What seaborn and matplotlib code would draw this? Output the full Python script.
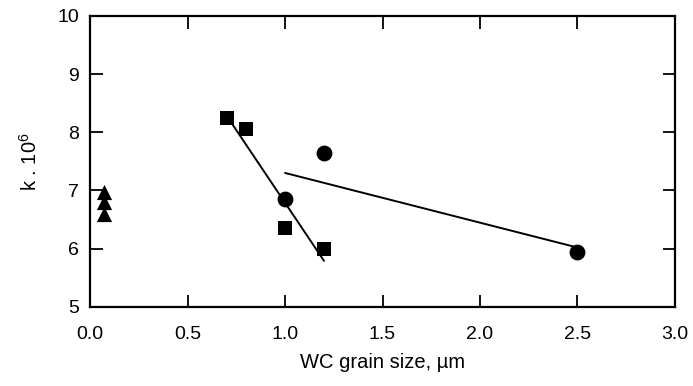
import matplotlib
matplotlib.use("Agg")
import matplotlib.pyplot as plt
import seaborn as sns
import pandas as pd

sns.set_theme(style="ticks")
plt.rcParams['font.family'] = ['Liberation Sans', 'DejaVu Sans']
plt.rcParams['mathtext.fontset'] = 'custom'
plt.rcParams['mathtext.rm'] = 'Liberation Sans'
plt.rcParams['text.color'] = 'black'
plt.rcParams['axes.labelcolor'] = 'black'

tri_x = [0.07, 0.07, 0.07]
tri_y = [6.97, 6.81, 6.60]
sq_x = [0.7, 0.8, 1.0, 1.2]
sq_y = [8.25, 8.05, 6.35, 6.00]
ci_x = [1.0, 1.2, 2.5]
ci_y = [6.85, 7.65, 5.95]

x_ticks = [0.0, 0.5, 1.0, 1.5, 2.0, 2.5, 3.0]
y_ticks = [5, 6, 7, 8, 9, 10]

tri = pd.DataFrame({"x": tri_x, "y": tri_y})
sq = pd.DataFrame({"x": sq_x, "y": sq_y})
ci = pd.DataFrame({"x": ci_x, "y": ci_y})

fig = plt.figure(figsize=(6.93, 3.86), dpi=100)
ax = fig.add_axes([0.130, 0.205, 0.844, 0.754])

line_kws = dict(color="black", linewidth=1.4)
sns.regplot(data=sq, x="x", y="y", ax=ax, scatter=False, ci=None,
            truncate=True, line_kws=line_kws)
sns.regplot(data=ci, x="x", y="y", ax=ax, scatter=False, ci=None,
            truncate=True, line_kws=line_kws)

sns.scatterplot(data=tri, x="x", y="y", ax=ax, marker="^", s=120,
                color="black", edgecolor="black", linewidth=0, zorder=3)
sns.scatterplot(data=sq, x="x", y="y", ax=ax, marker="s", s=100,
                color="black", edgecolor="black", linewidth=0, zorder=3)
sns.scatterplot(data=ci, x="x", y="y", ax=ax, marker="o", s=130,
                color="black", edgecolor="black", linewidth=0, zorder=3)

ax.set_xlim(0, 3.0)
ax.set_ylim(5, 10)
ax.set_xticks(x_ticks)
ax.set_xticklabels([f"{v:.1f}" for v in x_ticks])
ax.set_yticks(y_ticks)
ax.set_yticklabels([str(v) for v in y_ticks])

ax.tick_params(direction="in", length=9, width=1.3, labelsize=14,
               top=True, right=True, colors="black")
ax.tick_params(axis="x", pad=14)
ax.tick_params(axis="y", pad=8)
for s in ax.spines.values():
    s.set_visible(True)
    s.set_linewidth(1.6)
    s.set_color("black")

ax.set_xlabel("WC grain size, \u00b5m", fontsize=14.5, labelpad=7)
ax.set_ylabel("k . 10$^{6}$", fontsize=14.5, labelpad=12)

fig.savefig("out.png", dpi=100)
